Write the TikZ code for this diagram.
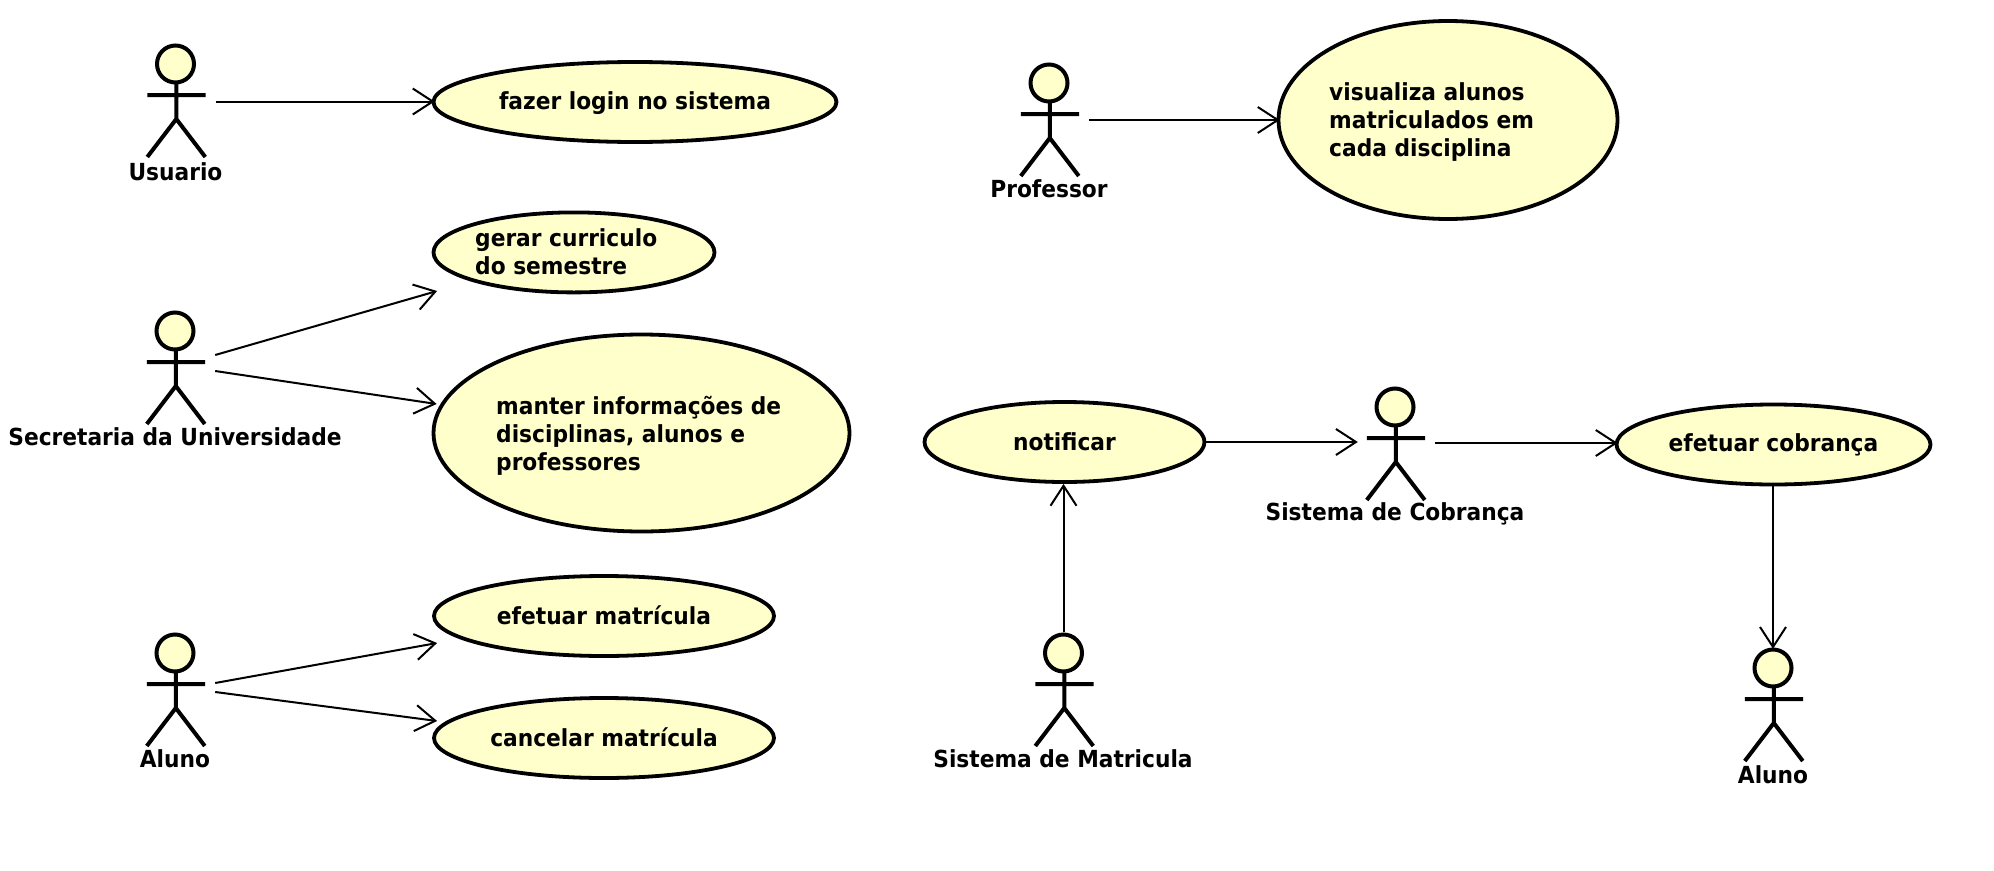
\documentclass[tikz,border=0pt]{standalone}
\usepackage{fontspec}
\setmainfont[FakeStretch=0.925]{DejaVu Sans}
\usetikzlibrary{shapes.geometric,arrows.meta}
\definecolor{uc}{HTML}{FFFFCC}
\tikzset{
  usecase/.style={ellipse,draw=black,fill=uc,line width=3.8pt,inner sep=0pt},
  lbl/.style={font=\fontsize{23.5}{28}\selectfont\bfseries,text=black,inner sep=0pt},
  txt/.style={lbl,align=left,anchor=west},
  stick/.style={line width=4pt,draw=black},
  head/.style={circle,draw=black,fill=uc,line width=4pt,minimum size=37pt,inner sep=0pt},
  actorbox/.style={rectangle,minimum width=80pt,minimum height=90pt,inner sep=0pt},
  conn/.style={line width=2pt,draw=black,-{Straight Barb[length=20pt,width=26pt,line width=2pt]}},
  actor/.pic={
    \draw[stick] (0.8,18)--(0.8,55) (-28.2,31)--(30.2,31) (-28.2,93)--(0.8,55)--(29.8,93);
    \node[head] at (0,0) {};
  }
}
\begin{document}
\begin{tikzpicture}[x=1pt,y=-1pt]
\useasboundingbox (0,0) rectangle (1994,870);
% actors
\pic at (175.5,64) {actor};
\node[actorbox] (usu) at (175.5,101.5) {};
\node[lbl] (usul) at (175.5,171.5) {Usuario};
\pic at (175,331) {actor};
\node[actorbox] (sec) at (175,368) {};
\node[lbl] (secl) at (175,437) {Secretaria da Universidade};
\pic at (175,653) {actor};
\node[actorbox] (alu) at (175,690) {};
\node[lbl] (alul) at (175,759) {Aluno};
\pic at (1049,83) {actor};
\node[actorbox] (pro) at (1049,120) {};
\node[lbl] (prol) at (1049,189) {Professor};
\pic at (1395,407) {actor};
\node[actorbox] (cob) at (1395,443) {};
\node[lbl] (cobl) at (1395,514) {Sistema de Cobrança};
\pic at (1063.5,653) {actor};
\node[actorbox,minimum height=116pt] (mat) at (1063.5,690) {};
\node[lbl] (matl) at (1063,759) {Sistema de Matricula};
\pic at (1773,668) {actor};
\node[actorbox,minimum height=38pt] (alr) at (1773,668) {};
\node[lbl] (alrl) at (1773,775) {Aluno};
% use cases
\node[usecase,minimum width=403pt,minimum height=80pt] (login) at (635,102) {};
\node[lbl] (logint) at (635,103) {fazer login no sistema};
\node[usecase,minimum width=281pt,minimum height=80pt] (ger) at (574,252.4) {};
\node[txt] (gert) at (475,251.5) {gerar curriculo\\do semestre};
\node[usecase,minimum width=416pt,minimum height=197pt] (man) at (641.5,433) {};
\node[txt] (mant) at (496,435.5) {manter informações de\\disciplinas, alunos e\\professores};
\node[usecase,minimum width=340pt,minimum height=80pt] (efe) at (604,616) {};
\node[lbl] (efet) at (604,615.5) {efetuar matrícula};
\node[usecase,minimum width=340pt,minimum height=80pt] (can) at (604,738) {};
\node[lbl] (cant) at (604,737.5) {cancelar matrícula};
\node[usecase,minimum width=339pt,minimum height=198pt] (vis) at (1448,120) {};
\node[txt] (vist) at (1329,122) {visualiza alunos\\matriculados em\\cada disciplina};
\node[usecase,minimum width=280pt,minimum height=80pt] (not) at (1064.5,442) {};
\node[lbl] (nott) at (1064.5,442) {notificar};
\node[usecase,minimum width=314pt,minimum height=80pt] (cbr) at (1773.5,444.5) {};
\node[lbl] (cbrt) at (1773.5,444.5) {efetuar cobrança};
% connectors
\draw[conn] (usu.east) -- ([xshift=3pt]usu.east -| login.west);
\draw[conn] ([yshift=13pt]sec.east) -- ([xshift=5.5pt,yshift=-38.6pt]ger.west);
\draw[conn] ([yshift=-3pt]sec.east) -- ([xshift=5pt,yshift=29pt]man.west);
\draw[conn] ([yshift=7pt]alu.east) -- ([xshift=5pt,yshift=-27pt]efe.west);
\draw[conn] ([yshift=-2pt]alu.east) -- ([xshift=5pt,yshift=17pt]can.west);
\draw[conn] (pro.east) -- ([xshift=3pt]pro.east -| vis.west);
\draw[conn] (not.east) -- ([xshift=3pt]not.east -| cob.west);
\draw[conn] (cob.east) -- ([xshift=3pt]cob.east -| cbr.west);
\draw[conn] (mat.north) -- (mat.north |- not.south);
\draw[conn] (alr.north |- cbr.south) -- (alr.north);
\end{tikzpicture}
\end{document}
